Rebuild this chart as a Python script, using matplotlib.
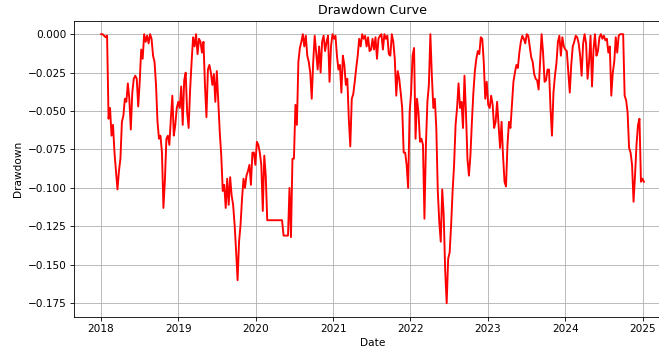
import matplotlib.pyplot as plt
import pandas as pd

# weekly drawdown of the strategy, starting first trading week of 2018
drawdown = [
    0.0, 0.0, -0.001, -0.002, -0.001,
    -0.055, -0.048, -0.066, -0.059, -0.077,
    -0.089, -0.101, -0.089, -0.081, -0.057,
    -0.053, -0.042, -0.044, -0.032, -0.042,
    -0.062, -0.038, -0.029, -0.027, -0.029,
    -0.047, -0.031, -0.010, -0.016, 0.0,
    -0.005, -0.001, -0.006, 0.0, -0.003,
    -0.014, -0.018, -0.033, -0.057, -0.068,
    -0.066, -0.077, -0.113, -0.095, -0.068,
    -0.066, -0.072, -0.055, -0.040, -0.066,
    -0.059, -0.048, -0.044, -0.048, -0.034,
    -0.059, -0.030, -0.025, -0.051, -0.061,
    -0.036, -0.018, -0.002, -0.008, 0.0,
    -0.013, -0.003, -0.005, -0.012, -0.005,
    -0.033, -0.054, -0.023, -0.020, -0.025,
    -0.033, -0.026, -0.044, -0.024, -0.044,
    -0.064, -0.079, -0.102, -0.098, -0.113,
    -0.094, -0.111, -0.093, -0.105, -0.111,
    -0.124, -0.141, -0.160, -0.135, -0.124,
    -0.107, -0.094, -0.100, -0.092, -0.089,
    -0.085, -0.098, -0.077, -0.077, -0.085,
    -0.070, -0.072, -0.077, -0.085, -0.115,
    -0.079, -0.092, -0.121, -0.121, -0.121,
    -0.121, -0.121, -0.121, -0.121, -0.121,
    -0.121, -0.121, -0.121, -0.131, -0.131,
    -0.131, -0.131, -0.100, -0.132, -0.081,
    -0.081, -0.046, -0.059, -0.018, -0.009,
    -0.005, 0.0, -0.008, -0.001, -0.014,
    -0.018, -0.025, -0.042, -0.018, -0.001,
    -0.012, -0.023, -0.008, -0.025, -0.005,
    -0.001, -0.011, -0.005, -0.001, -0.031,
    -0.008, 0.0, -0.003, -0.001, -0.014,
    -0.023, -0.020, -0.038, -0.014, -0.020,
    -0.033, -0.029, -0.055, -0.073, -0.042,
    -0.039, -0.031, -0.022, -0.014, -0.003,
    -0.008, 0.0, -0.003, -0.001, -0.008,
    -0.002, -0.011, -0.010, -0.003, -0.010,
    -0.002, -0.016, -0.003, -0.001, 0.0,
    -0.010, 0.0, -0.003, -0.001, -0.013,
    -0.014, 0.0, -0.005, -0.016, -0.040,
    -0.024, -0.029, -0.038, -0.048, -0.077,
    -0.077, -0.085, -0.100, -0.051, -0.038,
    -0.014, -0.009, -0.068, -0.042, -0.051,
    -0.070, -0.068, -0.072, -0.120, -0.072,
    -0.044, -0.033, 0.0, -0.027, -0.048,
    -0.042, -0.061, -0.102, -0.122, -0.135,
    -0.101, -0.118, -0.154, -0.175, -0.146,
    -0.142, -0.124, -0.102, -0.085, -0.059,
    -0.048, -0.032, -0.048, -0.044, -0.061,
    -0.027, -0.051, -0.081, -0.092, -0.079,
    -0.057, -0.038, -0.024, -0.016, -0.011,
    -0.013, -0.002, -0.003, -0.018, -0.042,
    -0.031, -0.046, -0.048, -0.040, -0.046,
    -0.061, -0.057, -0.044, -0.059, -0.074,
    -0.057, -0.079, -0.096, -0.099, -0.072,
    -0.057, -0.061, -0.046, -0.031, -0.025,
    -0.020, -0.022, -0.012, -0.005, -0.001,
    -0.003, -0.006, 0.0, -0.001, -0.008,
    -0.015, -0.018, -0.026, -0.029, -0.030,
    -0.036, -0.018, 0.0, -0.012, -0.031,
    -0.030, -0.023, -0.023, -0.048, -0.066,
    -0.038, -0.027, -0.019, -0.005, -0.001,
    -0.014, -0.002, -0.008, -0.010, -0.011,
    -0.025, -0.038, -0.020, -0.008, -0.005,
    -0.001, -0.002, -0.006, -0.014, -0.027,
    -0.006, 0.0, -0.006, -0.029, -0.018,
    -0.001, -0.034, -0.010, 0.0, -0.014,
    -0.011, -0.002, 0.0, -0.003, -0.001,
    -0.004, -0.003, -0.012, -0.008, -0.040,
    -0.025, -0.018, -0.002, -0.012, -0.001,
    0.0, 0.0, 0.0, -0.040, -0.043,
    -0.051, -0.074, -0.077, -0.085, -0.109,
    -0.092, -0.072, -0.059, -0.055, -0.096,
    -0.094, -0.096,
]

dates = pd.date_range('2018-01-02', periods=len(drawdown), freq='7D')


def desenhaDrawdown(x, y, name='out'):
    fig = plt.figure(figsize=(659 / 76, 347 / 76), dpi=76)
    ax = fig.add_axes([0.1123, 0.0873, 0.906, 0.853])
    ax.plot(x, y, color='red', linewidth=1.8)
    ax.set_title('Drawdown Curve')
    ax.set_xlabel('Date')
    ax.set_ylabel('Drawdown')
    ax.grid(True)
    fig.savefig(name + '.png', dpi=76)


desenhaDrawdown(dates, drawdown)
